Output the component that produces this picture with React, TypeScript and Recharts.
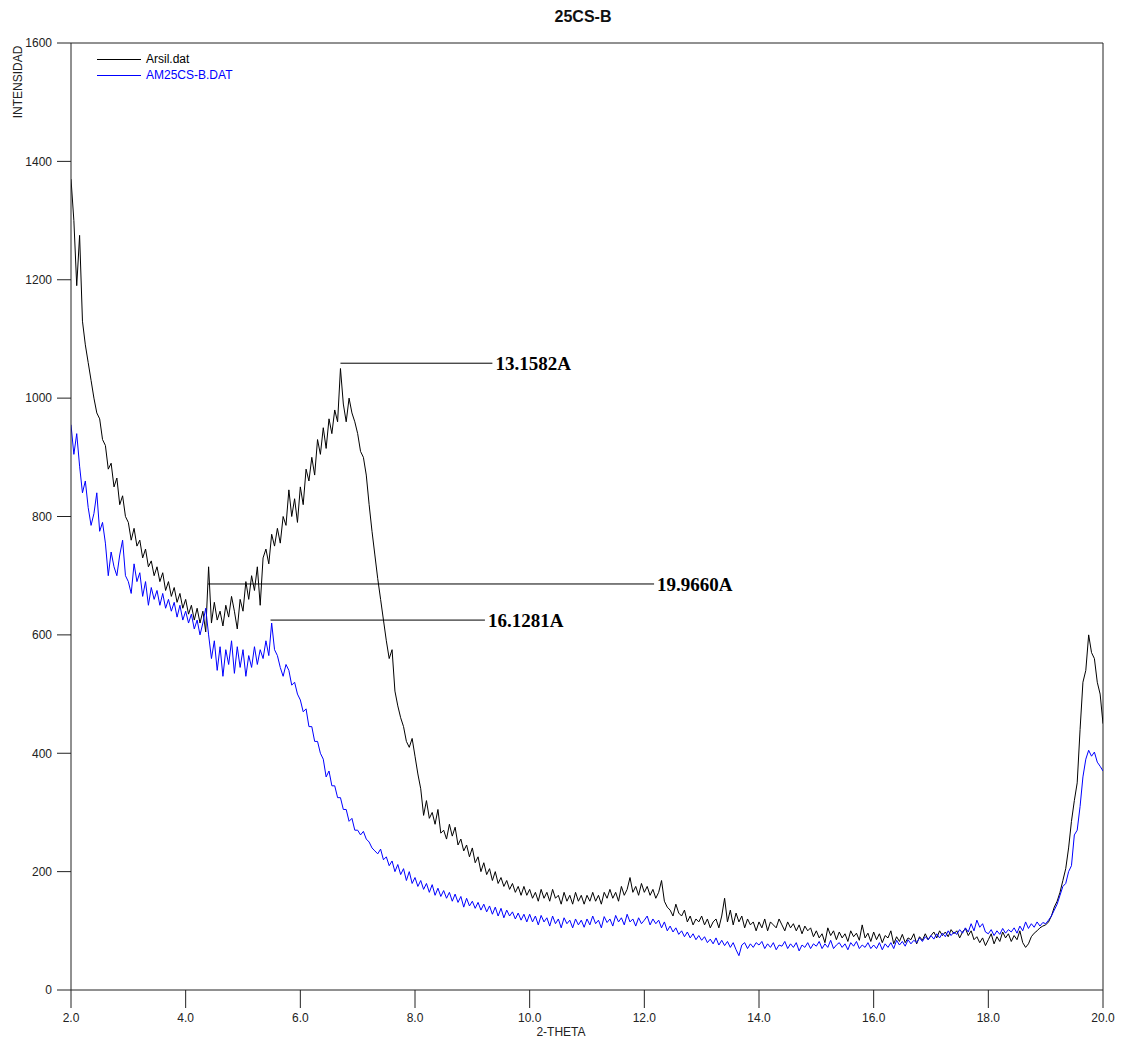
import React from 'react';
import { LineChart, Line, XAxis, YAxis, ReferenceLine, Legend } from 'recharts';

// 2-theta sampling grid of the scan
const THETA_START = 2.0;
const THETA_STEP = 0.05;

// Arsil.dat intensities (black), 2.00 .. 20.00 step 0.05
const arsil = [
  1370, 1300, 1190, 1275, 1130, 1090, 1060, 1030, 1000, 975, 965, 930, 920, 880, 890, 850, 865, 820, 835, 800,
  790, 760, 780, 750, 760, 730, 745, 715, 725, 700, 715, 690, 705, 675, 690, 665, 680, 655, 670, 645,
  660, 635, 650, 625, 645, 620, 640, 605, 715, 620, 655, 625, 640, 615, 650, 630, 665, 640, 610, 660,
  640, 690, 660, 700, 675, 715, 650, 730, 745, 720, 770, 750, 780, 755, 800, 785, 845, 800, 830, 790,
  850, 820, 880, 860, 900, 870, 930, 905, 950, 915, 965, 940, 980, 960, 1050, 990, 960, 1000, 975, 960,
  940, 910, 900, 870, 820, 775, 735, 695, 660, 625, 590, 560, 575, 505, 480, 460, 445, 420, 410, 425,
  395, 365, 340, 295, 320, 290, 300, 280, 305, 265, 270, 255, 280, 260, 275, 245, 255, 235, 245, 225,
  240, 215, 225, 200, 215, 195, 205, 185, 200, 180, 190, 175, 185, 170, 180, 165, 175, 160, 175, 160,
  170, 155, 165, 150, 170, 155, 165, 150, 170, 155, 160, 145, 165, 150, 160, 145, 165, 150, 160, 145,
  160, 150, 165, 150, 160, 145, 165, 155, 170, 155, 165, 150, 175, 160, 170, 190, 165, 175, 160, 180,
  165, 175, 160, 170, 155, 165, 185, 150, 140, 135, 125, 145, 130, 125, 135, 115, 125, 110, 120, 115,
  125, 110, 120, 105, 115, 120, 105, 125, 155, 115, 135, 110, 130, 115, 125, 105, 120, 110, 115, 100,
  115, 105, 120, 100, 115, 110, 105, 120, 110, 100, 115, 105, 112, 100, 110, 95, 108, 100, 105, 90,
  100, 88, 95, 80, 105, 92, 100, 85, 98, 88, 95, 82, 100, 90, 96, 84, 110, 88, 96, 82,
  98, 85, 95, 80, 92, 88, 100, 78, 90, 82, 94, 80, 88, 85, 95, 78, 90, 84, 95, 85,
  92, 98, 88, 100, 92, 98, 90, 102, 95, 100, 88, 98, 104, 92, 100, 85, 90, 80, 88, 75,
  85, 95, 78, 90, 82, 98, 88, 95, 82, 92, 85, 100, 80, 72, 78, 90, 96, 100, 105, 108,
  110, 115, 125, 140, 150, 165, 185, 205, 240, 285, 320, 350, 440, 520, 540, 600, 570, 560, 520, 500,
  450,
];

// AM25CS-B.DAT intensities (blue), same grid
const am25 = [
  955, 905, 940, 885, 840, 860, 815, 785, 805, 840, 775, 790, 755, 700, 740, 715, 700, 735, 760, 700,
  690, 670, 720, 690, 705, 665, 690, 650, 680, 660, 675, 650, 670, 645, 660, 640, 655, 630, 650, 625,
  640, 620, 635, 610, 625, 600, 620, 645, 600, 560, 590, 540, 580, 530, 575, 550, 590, 535, 580, 545,
  575, 530, 565, 545, 580, 550, 575, 560, 590, 565, 620, 575, 565, 545, 530, 550, 540, 515, 520, 500,
  490, 470, 475, 445, 445, 420, 420, 400, 390, 360, 370, 345, 345, 325, 325, 305, 305, 285, 290, 270,
  270, 262, 268, 255, 250, 240, 235, 230, 238, 220, 225, 210, 218, 200, 212, 195, 205, 185, 200, 180,
  190, 175, 185, 170, 180, 165, 178, 160, 172, 158, 168, 155, 165, 150, 162, 148, 158, 140, 155, 142,
  150, 138, 148, 135, 145, 132, 142, 128, 140, 125, 138, 122, 135, 125, 132, 120, 130, 118, 128, 115,
  128, 115, 125, 110, 126, 115, 122, 108, 125, 112, 120, 105, 122, 112, 118, 105, 120, 110, 118, 106,
  120, 110, 125, 112, 118, 105, 124, 114, 120, 108, 126, 115, 122, 110, 128, 115, 120, 108, 122, 112,
  118, 125, 110, 120, 112, 118, 105, 115, 100, 108, 98, 105, 94, 100, 90, 98, 88, 95, 85, 92,
  84, 90, 80, 86, 78, 88, 76, 84, 75, 82, 72, 80, 68, 58, 76, 80, 70, 78, 72, 80,
  76, 82, 70, 78, 72, 80, 68, 76, 74, 82, 70, 78, 72, 80, 66, 76, 72, 80, 70, 78,
  74, 82, 70, 78, 72, 84, 70, 76, 80, 72, 78, 68, 80, 74, 82, 70, 76, 72, 80, 70,
  76, 70, 80, 68, 78, 72, 80, 70, 84, 76, 82, 74, 85, 78, 84, 80, 88, 82, 90, 85,
  92, 86, 95, 88, 96, 90, 100, 92, 98, 94, 102, 96, 105, 98, 112, 100, 118, 106, 112, 98,
  95, 102, 92, 100, 94, 104, 96, 102, 98, 105, 96, 108, 100, 115, 104, 112, 106, 115, 108, 114,
  112, 118, 125, 135, 145, 160, 175, 180, 200, 210, 262, 270, 310, 360, 390, 405, 395, 402, 385, 378,
  370,
];

const xTicks = [2, 4, 6, 8, 10, 12, 14, 16, 18, 20];
const yTicks = [0, 200, 400, 600, 800, 1000, 1200, 1400, 1600];

const peakLabels = ['13.1582A', '19.9660A', '16.1281A'];
const peakFrom = [6.7, 4.39, 5.48];
const peakTo = [9.35, 12.17, 9.22];
const peakY = [1059, 686, 625];

const seriesNames = ['Arsil.dat', 'AM25CS-B.DAT'];
const seriesColors = ['#000000', '#0000ff'];

const data = arsil.map((a, i) => ({
  t: Number((THETA_START + i * THETA_STEP).toFixed(2)),
  arsil: a,
  am25: am25[i],
}));

const FONT = '"Liberation Sans", Arial, sans-serif';
const AXIS = '#222';

const renderLegend = () => (
  <svg width={220} height={34} style={{ display: 'block' }}>
    {seriesNames.map((n, i) => (
      <g key={n}>
        <line x1={0} x2={44} y1={8.5 + i * 16} y2={8.5 + i * 16} stroke={seriesColors[i]} strokeWidth={1} />
        <text x={49} y={8 + i * 16} dy="0.35em" fontSize={12} fontFamily={FONT} fill={seriesColors[i]}>
          {n}
        </text>
      </g>
    ))}
  </svg>
);

const YLabel = () => (
  <text
    x={14}
    y={74}
    transform="rotate(-90, 14, 74)"
    textAnchor="middle"
    fontSize={12}
    fontFamily={FONT}
    fill="#222"
  >
    INTENSIDAD
  </text>
);

export default function App() {
  return (
    <div style={{ position: 'relative', width: 1107, height: 1031 }}>
      <div
        style={{
          position: 'absolute',
          left: 475,
          top: 1,
          width: 200,
          textAlign: 'center',
          fontFamily: FONT,
          fontWeight: 'bold',
          fontSize: 16,
          lineHeight: '16px',
          color: '#111',
        }}
      >
        25CS-B
      </div>
      <div
        style={{
          position: 'absolute',
          left: 453,
          top: 1018,
          width: 200,
          textAlign: 'center',
          fontFamily: FONT,
          fontSize: 12,
          lineHeight: '12px',
          color: '#222',
        }}
      >
        2-THETA
      </div>
      <LineChart width={1107} height={1031} data={data} margin={{ top: 35, right: 12, left: 0, bottom: 0 }}>
        <XAxis
          dataKey="t"
          type="number"
          domain={[2, 20]}
          ticks={xTicks}
          tickFormatter={(v: number) => v.toFixed(1)}
          height={49}
          tickSize={18}
          tickMargin={5}
          stroke={AXIS}
          tick={{ fontSize: 12, fontFamily: FONT, fill: '#222' }}
          allowDataOverflow
        />
        <YAxis
          type="number"
          domain={[0, 1600]}
          ticks={yTicks}
          width={63}
          tickSize={14}
          tickMargin={5}
          stroke={AXIS}
          tick={{ fontSize: 12, fontFamily: FONT, fill: '#222' }}
          label={<YLabel />}
          allowDataOverflow
        />
        <ReferenceLine y={1600} stroke={AXIS} />
        <ReferenceLine x={20} stroke={AXIS} />
        <Line
          type="linear"
          dataKey="arsil"
          name={seriesNames[0]}
          stroke={seriesColors[0]}
          strokeWidth={1}
          dot={false}
          isAnimationActive={false}
        />
        <Line
          type="linear"
          dataKey="am25"
          name={seriesNames[1]}
          stroke={seriesColors[1]}
          strokeWidth={1}
          dot={false}
          isAnimationActive={false}
        />
        {peakLabels.map((lab, i) => (
          <ReferenceLine
            key={lab}
            segment={[
              { x: peakFrom[i], y: peakY[i] },
              { x: peakTo[i], y: peakY[i] },
            ]}
            stroke="#000"
            strokeWidth={1}
            label={{
              value: lab,
              position: 'right',
              offset: 3,
              fill: '#000',
              fontSize: 19,
              fontWeight: 'bold',
              fontFamily: '"Liberation Serif", "Times New Roman", serif',
            }}
          />
        ))}
        <Legend
          layout="vertical"
          align="center"
          verticalAlign="middle"
          wrapperStyle={{ top: 43, left: 89, width: 220, height: 34 }}
          content={renderLegend}
        />
      </LineChart>
    </div>
  );
}
